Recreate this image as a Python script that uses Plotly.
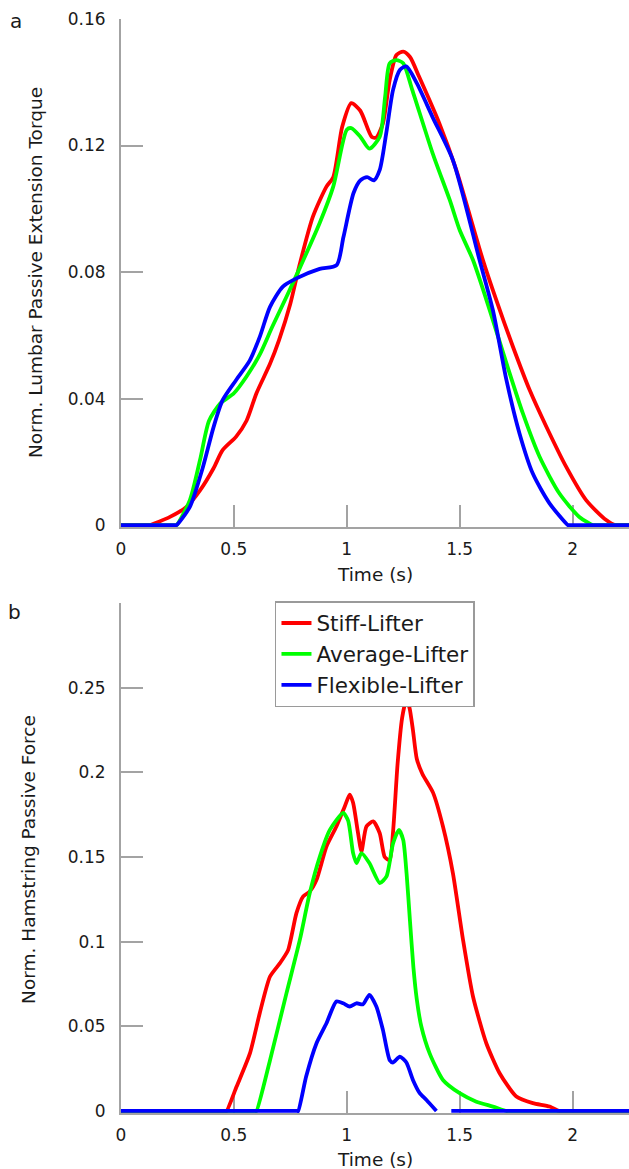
import plotly.graph_objects as go

# ---------------- Panel a: Norm. Lumbar Passive Extension Torque ----------------
a_stiff_t = [0, 0.123, 0.128, 0.217, 0.29, 0.35, 0.41, 0.45, 0.51, 0.556, 0.60, 0.66, 0.70, 0.75, 0.79,
             0.85, 0.91, 0.94, 0.98, 1.02, 1.06, 1.11, 1.13, 1.16, 1.19, 1.22, 1.25, 1.28, 1.32,
             1.41, 1.485, 1.603, 1.662, 1.736, 1.81, 1.884, 1.972, 2.06, 2.149, 2.19, 2.195, 2.25]
a_stiff_v = [0, 0, 0, 0.0026, 0.0058, 0.011, 0.018, 0.0237, 0.028, 0.033, 0.0417, 0.051, 0.0585, 0.070, 0.082,
             0.0975, 0.107, 0.110, 0.126, 0.1334, 0.131, 0.1228, 0.1225, 0.127, 0.1407, 0.1486, 0.1497, 0.148, 0.1418,
             0.127, 0.1123, 0.0838, 0.0712, 0.0564, 0.0427, 0.0311, 0.0184, 0.0079, 0.0016, 0, 0, 0]

a_avg_t = [0, 0.241, 0.246, 0.305, 0.35, 0.39, 0.44, 0.50, 0.556, 0.615, 0.67, 0.733, 0.79, 0.88, 0.94,
           1.00, 1.02, 1.06, 1.10, 1.146, 1.17, 1.19, 1.22, 1.25, 1.29, 1.38, 1.456, 1.50, 1.559,
           1.633, 1.707, 1.78, 1.854, 1.942, 2.03, 2.09, 2.095, 2.25]
a_avg_v = [0, 0, 0, 0.0079, 0.0206, 0.033, 0.0385, 0.0417, 0.047, 0.054, 0.0627, 0.0722, 0.081, 0.0955, 0.107,
           0.125, 0.1255, 0.1228, 0.119, 0.1228, 0.1355, 0.146, 0.147, 0.146, 0.1376, 0.1176, 0.1028, 0.0933, 0.0838,
           0.068, 0.0512, 0.0353, 0.0216, 0.010, 0.0026, 0, 0, 0]

a_flex_t = [0, 0.241, 0.246, 0.305, 0.363, 0.41, 0.45, 0.51, 0.57, 0.615, 0.66, 0.717, 0.777, 0.88, 0.955,
            0.985, 1.03, 1.06, 1.09, 1.12, 1.146, 1.175, 1.205, 1.235, 1.264, 1.31, 1.38, 1.47,
            1.588, 1.647, 1.707, 1.765, 1.824, 1.898, 1.98, 1.985, 2.25]
a_flex_v = [0, 0, 0, 0.0058, 0.0184, 0.031, 0.0395, 0.0459, 0.052, 0.0596, 0.069, 0.0754, 0.078, 0.081, 0.0822,
            0.091, 0.105, 0.109, 0.110, 0.109, 0.1123, 0.124, 0.1376, 0.1439, 0.145, 0.1397, 0.129, 0.1154,
            0.0838, 0.068, 0.0459, 0.029, 0.0163, 0.0069, 0, 0, 0]

# ---------------- Panel b: Norm. Hamstring Passive Force ----------------
b_stiff_t = [0, 0.463, 0.468, 0.512, 0.571, 0.615, 0.66, 0.704, 0.74, 0.777, 0.807, 0.836, 0.866, 0.91, 0.954,
             0.991, 1.013, 1.028, 1.05, 1.065, 1.087, 1.117, 1.146, 1.168, 1.19, 1.205, 1.225, 1.245,
             1.264, 1.278, 1.293, 1.31, 1.335, 1.382, 1.426, 1.47, 1.515, 1.559, 1.618, 1.677, 1.751,
             1.824, 1.898, 1.94, 1.945, 2.25]
b_stiff_v = [0, 0, 0, 0.0144, 0.034, 0.058, 0.0794, 0.0873, 0.095, 0.1168, 0.1267, 0.1296, 0.1365, 0.1562, 0.168,
             0.1798, 0.1868, 0.182, 0.164, 0.1533, 0.168, 0.171, 0.164, 0.150, 0.148, 0.165, 0.205, 0.232,
             0.243, 0.238, 0.225, 0.208, 0.199, 0.188, 0.168, 0.1405, 0.101, 0.0676, 0.040, 0.0223, 0.0085,
             0.0046, 0.0026, 0, 0, 0]

b_avg_t = [0, 0.595, 0.60, 0.66, 0.733, 0.792, 0.836, 0.88, 0.925, 0.984, 1.006, 1.028, 1.043, 1.065, 1.10,
           1.146, 1.176, 1.205, 1.231, 1.25, 1.265, 1.28, 1.295, 1.31, 1.33, 1.367, 1.426, 1.50, 1.574,
           1.647, 1.707, 1.712, 2.25]
b_avg_v = [0, 0, 0, 0.030, 0.0696, 0.101, 0.1287, 0.150, 0.166, 0.176, 0.1715, 0.1523, 0.1464, 0.1523, 0.1464,
           0.1346, 0.1385, 0.158, 0.166, 0.16, 0.14, 0.112, 0.085, 0.066, 0.050, 0.034, 0.0183, 0.0105, 0.0055,
           0.0026, 0, 0, 0]

b_flex_t = [0, 0.780, 0.785, 0.82, 0.866, 0.91, 0.954, 0.984, 1.013, 1.043, 1.072, 1.10, 1.131, 1.16, 1.19,
            1.205, 1.235, 1.264, 1.293, 1.323, 1.353, 1.397, None, 1.463, 2.25]
b_flex_v = [0, 0, 0, 0.0203, 0.040, 0.0518, 0.0646, 0.0636, 0.0617, 0.0636, 0.063, 0.0686, 0.0617, 0.0479, 0.030,
            0.0286, 0.0321, 0.0286, 0.0183, 0.0105, 0.0065, 0, None, 0, 0]

series_names = ["Stiff-Lifter", "Average-Lifter", "Flexible-Lifter"]
series_colors = ["#ff0000", "#00ff00", "#0000ff"]

x_ticks = [0, 0.5, 1, 1.5, 2]
x_ticktext = ["0", "0.5", "1", "1.5", "2"]
a_yticks = [0, 0.04, 0.08, 0.12, 0.16]
a_yticktext = ["0", "0.04", "0.08", "0.12", "0.16"]
b_yticks = [0, 0.05, 0.1, 0.15, 0.2, 0.25]
b_yticktext = ["0", "0.05", "0.1", "0.15", "0.2", "0.25"]

FONT = "DejaVu Sans"
AXC = "#a3a3a3"
TXT = "#1a1a1a"
LW = 3.8

fig = go.Figure()
panel_a = [(a_stiff_t, a_stiff_v), (a_avg_t, a_avg_v), (a_flex_t, a_flex_v)]
panel_b = [(b_stiff_t, b_stiff_v), (b_avg_t, b_avg_v), (b_flex_t, b_flex_v)]

for i, (t, v) in enumerate(panel_a):
    fig.add_trace(go.Scatter(x=t, y=v, mode="lines", name=series_names[i], showlegend=False,
                             line=dict(color=series_colors[i], width=LW, shape="spline", smoothing=0.7),
                             xaxis="x", yaxis="y"))
for i, (t, v) in enumerate(panel_b):
    fig.add_trace(go.Scatter(x=t, y=v, mode="lines", name=series_names[i], showlegend=True,
                             connectgaps=False,
                             line=dict(color=series_colors[i], width=LW, shape="spline", smoothing=0.6),
                             xaxis="x2", yaxis="y2"))

common_x = dict(range=[0, 2.25], showline=True, linecolor=AXC, linewidth=2, ticks="inside",
                ticklen=22, tickwidth=2, tickcolor=AXC, tickvals=x_ticks, ticktext=x_ticktext,
                showgrid=False, zeroline=False, tickfont=dict(family=FONT, size=17, color=TXT),
                ticklabelstandoff=6, layer="below traces", fixedrange=True, automargin=False)
common_y = dict(showline=True, linecolor=AXC, linewidth=2, ticks="inside", ticklen=22, tickwidth=2,
                tickcolor=AXC, showgrid=False, zeroline=False,
                tickfont=dict(family=FONT, size=17, color=TXT), ticklabelstandoff=10,
                layer="below traces", fixedrange=True, automargin=False)

fig.update_layout(
    width=629, height=1169,
    margin=dict(l=121, r=0, t=19, b=56, autoexpand=False),
    paper_bgcolor="white", plot_bgcolor="white",
    font=dict(family=FONT, color=TXT),
    xaxis=dict(domain=[0, 1], anchor="y", **common_x),
    yaxis=dict(domain=[0.5356, 1], anchor="x", range=[-0.0006, 0.16],
               tickvals=a_yticks, ticktext=a_yticktext, **common_y),
    xaxis2=dict(domain=[0, 1], anchor="y2", **common_x),
    yaxis2=dict(domain=[0, 0.4662], anchor="x2", range=[-0.0012, 0.3],
                tickvals=b_yticks, ticktext=b_yticktext, **common_y),
    legend=dict(x=0.3031, y=0.4680, xanchor="left", yanchor="top",
                bordercolor="#9a9a9a", borderwidth=1.5, bgcolor="white",
                font=dict(family=FONT, size=21.5, color=TXT), tracegroupgap=0),
    showlegend=True,
)

ann = [
    dict(text="Time (s)", x=0.5, y=0.4918, size=18.5, angle=0),
    dict(text="Time (s)", x=0.5, y=-0.0425, size=18.5, angle=0),
    dict(text="Norm. Lumbar Passive Extension Torque", x=-0.1693, y=0.7687, size=18.5, angle=-90),
    dict(text="Norm. Hamstring Passive Force", x=-0.1811, y=0.2313, size=18.5, angle=-90),
    dict(text="a", x=-0.2067, y=0.9982, size=20, angle=0),
    dict(text="b", x=-0.2106, y=0.4580, size=20, angle=0),
]
for a in ann:
    fig.add_annotation(text=a["text"], x=a["x"], y=a["y"], xref="paper", yref="paper",
                       xanchor="center", yanchor="middle", showarrow=False, textangle=a["angle"],
                       font=dict(family=FONT, size=a["size"], color=TXT))

fig.write_html("out.html", config={"displayModeBar": False},
               post_script="document.body.style.margin='0';document.body.style.overflow='hidden';")
